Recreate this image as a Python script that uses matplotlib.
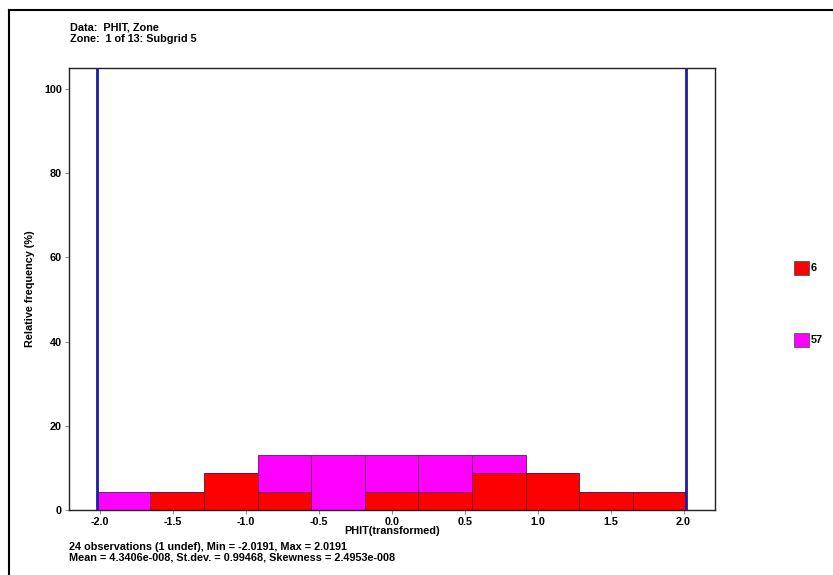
import numpy as np
import matplotlib
matplotlib.use("Agg")
import matplotlib.pyplot as plt
from matplotlib.lines import Line2D

plt.rcParams['font.family'] = ['Liberation Sans', 'DejaVu Sans']

# data (percent of 23 defined observations)
data_min = -2.0191
data_max = 2.0191
n_bins = 11
red_pct = [0, 4.35, 8.70, 4.35, 0, 4.35, 4.35, 8.70, 8.70, 4.35, 4.35]
magenta_pct = [4.35, 0, 0, 8.70, 13.04, 8.70, 8.70, 4.35, 0, 0, 0]
legend_labels = ["6", "57"]
y_ticks = [0, 20, 40, 60, 80, 100]
x_ticks = [-2.0, -1.5, -1.0, -0.5, 0.0, 0.5, 1.0, 1.5, 2.0]

FS = 7.8
WT = "bold"

edges = np.linspace(data_min, data_max, n_bins + 1)
width = edges[1] - edges[0]

fig = plt.figure(figsize=(8.33, 5.75), dpi=100)
ax = fig.add_axes([69 / 833, 1 - 510 / 575, (715 - 69) / 833, (510 - 68) / 575])

# stacked histogram bars
ax.bar(edges[:-1], red_pct, width=width, align="edge", color="#ff0000",
       edgecolor="#6a1020", linewidth=0.6, zorder=2)
ax.bar(edges[:-1], magenta_pct, bottom=red_pct, width=width, align="edge",
       color="#ff00ff", edgecolor="#6a1060", linewidth=0.6, zorder=2)

# min / max lines
for v in (data_min, data_max):
    ax.axvline(v, color="#1c1ca8", linewidth=2, zorder=3)

ax.set_xlim(-2.21, 2.215)
ax.set_ylim(0, 105)
ax.set_xticks(x_ticks)
ax.set_xticklabels([f"{t:.1f}" for t in x_ticks], fontweight=WT)
ax.set_yticks(y_ticks)
ax.set_yticklabels([str(t) for t in y_ticks], fontweight=WT)
ax.tick_params(labelsize=FS, length=3, width=0.6, color="#777777", pad=2)
for s in ax.spines.values():
    s.set_linewidth(1.0)
    s.set_color("#222222")

ax.set_xlabel("PHIT(transformed)", fontsize=FS, fontweight=WT)
ax.xaxis.set_label_coords(0.5, -0.037)
ax.set_ylabel("Relative frequency (%)", fontsize=FS, fontweight=WT)
ax.yaxis.set_label_coords(-0.052, 0.5)

# header / footer texts
fig.text(70 / 833, 1 - 27.5 / 575, "Data:  PHIT, Zone", fontsize=FS, fontweight=WT, va="center")
fig.text(70 / 833, 1 - 38.5 / 575, "Zone:  1 of 13: Subgrid 5", fontsize=FS, fontweight=WT,
         va="center")
fig.text(69 / 833, 1 - 547 / 575,
         "24 observations (1 undef), Min = -2.0191, Max = 2.0191",
         fontsize=FS, fontweight=WT, va="center")
fig.text(69 / 833, 1 - 558 / 575,
         "Mean = 4.3406e-008, St.dev. = 0.99468, Skewness = 2.4953e-008",
         fontsize=FS, fontweight=WT, va="center")

# legend boxes on the right
for lab, col, yc in zip(legend_labels, ["#ff0000", "#ff00ff"], [268, 340]):
    fig.patches.append(plt.Rectangle((794 / 833, 1 - (yc + 7) / 575), 15 / 833, 14 / 575,
                                     transform=fig.transFigure, facecolor=col,
                                     edgecolor="#555555", linewidth=0.6))
    fig.text(811 / 833, 1 - yc / 575, lab, fontsize=FS, fontweight=WT, va="center")

# outer frame (top and left only)
fig.add_artist(Line2D([9 / 833, 1], [1 - 10 / 575, 1 - 10 / 575], color="black", linewidth=1.5))
fig.add_artist(Line2D([9 / 833, 9 / 833], [0, 1 - 10 / 575], color="black", linewidth=1.5))

fig.savefig("out.png", dpi=100)
